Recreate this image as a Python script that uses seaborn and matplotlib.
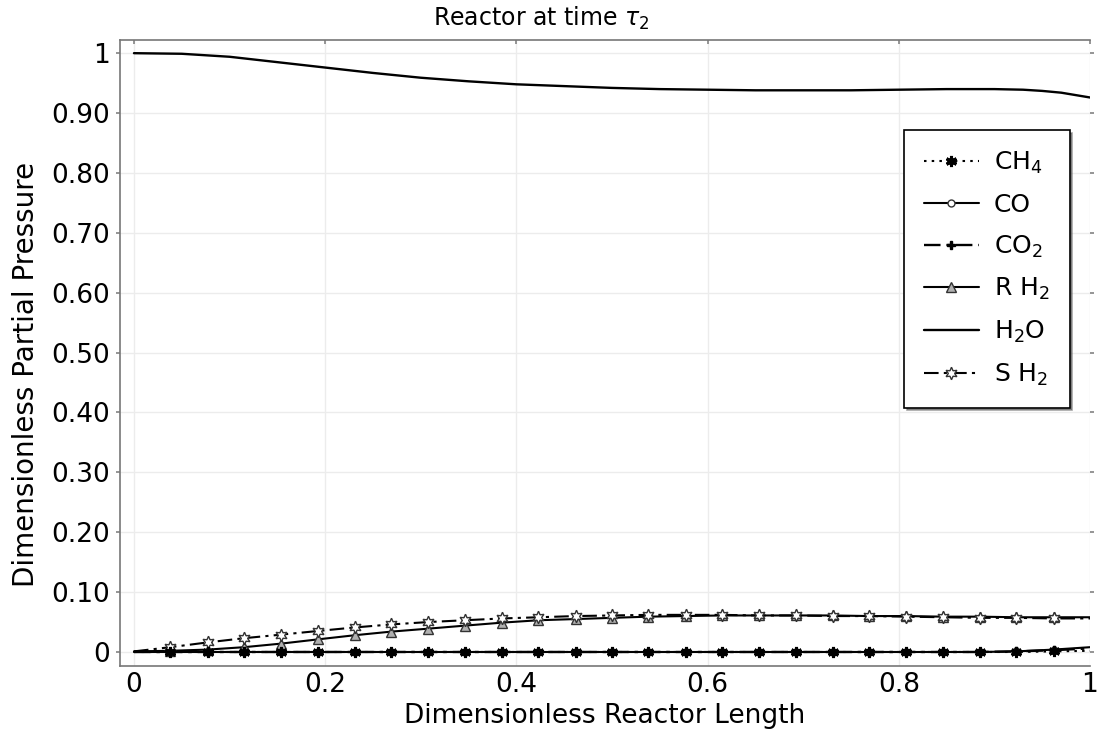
import matplotlib
matplotlib.use("Agg")
import matplotlib.pyplot as plt
import seaborn as sns
import pandas as pd

# marker grid positions (dimensionless reactor length)
x = [0.0, 0.038, 0.077, 0.115, 0.154, 0.192, 0.231, 0.269, 0.308, 0.346,
     0.385, 0.423, 0.462, 0.5, 0.538, 0.577, 0.615, 0.654, 0.692, 0.731,
     0.769, 0.808, 0.846, 0.885, 0.923, 0.962, 1.0]
ch4 = [0.0] * 24 + [0.0, 0.001, 0.002]
co = [0.0] * 23 + [0.0, 0.001, 0.004, 0.008]
co2 = [0.0] * 23 + [0.0, 0.001, 0.003, 0.006]
r_h2 = [0.001, 0.002, 0.004, 0.008, 0.014, 0.021, 0.028, 0.034, 0.039, 0.044,
        0.049, 0.053, 0.055, 0.057, 0.059, 0.060, 0.061, 0.061, 0.061, 0.061,
        0.060, 0.060, 0.059, 0.059, 0.058, 0.058, 0.058]
s_h2 = [0.001, 0.008, 0.016, 0.023, 0.029, 0.035, 0.041, 0.046, 0.050, 0.053,
        0.056, 0.058, 0.060, 0.061, 0.062, 0.062, 0.062, 0.061, 0.061, 0.060,
        0.060, 0.059, 0.058, 0.057, 0.057, 0.056, 0.056]

x_h2o = [0.0, 0.05, 0.1, 0.15, 0.2, 0.25, 0.3, 0.35, 0.4, 0.45, 0.5, 0.55,
         0.6, 0.65, 0.7, 0.75, 0.8, 0.85, 0.9, 0.93, 0.95, 0.97, 0.985, 1.0]
h2o = [1.0, 0.999, 0.994, 0.985, 0.976, 0.967, 0.959, 0.953, 0.948, 0.945,
       0.942, 0.940, 0.939, 0.938, 0.938, 0.938, 0.939, 0.940, 0.940, 0.939,
       0.937, 0.934, 0.930, 0.926]

yticks = [0, 0.1, 0.2, 0.3, 0.4, 0.5, 0.6, 0.7, 0.8, 0.9, 1.0]
ytick_labels = ["0", "0.10", "0.20", "0.30", "0.40", "0.50", "0.60", "0.70",
                "0.80", "0.90", "1"]
xticks = [0, 0.2, 0.4, 0.6, 0.8, 1.0]
xtick_labels = ["0", "0.2", "0.4", "0.6", "0.8", "1"]

sns.set_theme(style="white")
plt.rcParams['font.family'] = ['DejaVu Sans']
plt.rcParams['text.color'] = 'black'
plt.rcParams['axes.labelcolor'] = 'black'

fig = plt.figure(figsize=(11.03, 7.34), dpi=100)
ax = fig.add_axes([120 / 1103, 1 - 666 / 734, 970 / 1103, 626 / 734])

df = pd.DataFrame({"x": x, "CH4": ch4, "CO": co, "CO2": co2, "RH2": r_h2, "SH2": s_h2})
dfw = pd.DataFrame({"x": x_h2o, "H2O": h2o})

mev = slice(1, 26)
dashdot = (0, (7, 2.5, 1.5, 2.5))


def styled(line, ls, marker=None, ms=6, mfc="white", mec="#333333", mew=1.0, z=3):
    line.set_linestyle(ls)
    line.set_zorder(z)
    if marker is not None:
        line.set_marker(marker)
        line.set_markersize(ms)
        line.set_markerfacecolor(mfc)
        line.set_markeredgecolor(mec)
        line.set_markeredgewidth(mew)
        line.set_markevery(mev)
    return line


series = {}
sns.lineplot(data=dfw, x="x", y="H2O", ax=ax, color="black", lw=1.7, label=r"H$_2$O")
series[r"H$_2$O"] = styled(ax.lines[-1], "-", z=3)

sns.lineplot(data=df, x="x", y="CO", ax=ax, color="black", lw=1.5, label="CO")
series["CO"] = styled(ax.lines[-1], "-", "o", ms=5, mfc="white", mec="#333333", z=3)

sns.lineplot(data=df, x="x", y="RH2", ax=ax, color="black", lw=1.5, label=r"R H$_2$")
series[r"R H$_2$"] = styled(ax.lines[-1], "-", "^", ms=7, mfc="#b0b0b0", mec="#333333", z=4)

sns.lineplot(data=df, x="x", y="SH2", ax=ax, color="black", lw=1.5, label=r"S H$_2$")
series[r"S H$_2$"] = styled(ax.lines[-1], dashdot, (6, 1, 0), ms=9, mfc="white",
                            mec="#333333", z=5)

sns.lineplot(data=df, x="x", y="CO2", ax=ax, color="black", lw=1.7, label=r"CO$_2$")
series[r"CO$_2$"] = styled(ax.lines[-1], dashdot, "P", ms=6, mfc="black", mec="black", z=5)

sns.lineplot(data=df, x="x", y="CH4", ax=ax, color="black", lw=1.5, label=r"CH$_4$")
series[r"CH$_4$"] = styled(ax.lines[-1], (0, (1.2, 2.5)), (6, 2, 0), ms=8, mfc="black",
                           mec="black", mew=2.2, z=6)

ax.set_xlim(-0.0146, 1.0)
ax.set_ylim(-0.0234, 1.022)
ax.set_xticks(xticks)
ax.set_xticklabels(xtick_labels)
ax.set_yticks(yticks)
ax.set_yticklabels(ytick_labels)
ax.tick_params(axis="both", labelsize=19, labelcolor="black", length=3,
               color="#888888", pad=4)
ax.tick_params(axis="y", direction="out", left=True, right=True)
ax.tick_params(axis="x", direction="in", top=True, bottom=False)
ax.grid(True, color="#ececec", lw=1)
for s in ["left", "bottom", "top"]:
    ax.spines[s].set_color("#777777")
    ax.spines[s].set_linewidth(1.2)
ax.spines["right"].set_visible(False)

ax.set_xlabel("Dimensionless Reactor Length", fontsize=19, labelpad=4, color="black")
ax.set_ylabel("Dimensionless Partial Pressure", fontsize=20, color="black")
ax.yaxis.set_label_coords(-0.082, 0.465)
fig.text(541 / 1103, 1 - 18 / 734, r"Reactor at time $\tau_2$", fontsize=17,
         ha="center", va="center", color="black")

order = [r"CH$_4$", "CO", r"CO$_2$", r"R H$_2$", r"H$_2$O", r"S H$_2$"]
leg = ax.legend([series[o] for o in order], order, loc="upper right",
                bbox_to_anchor=(0.979, 0.856), borderaxespad=0, fontsize=18,
                frameon=True, fancybox=False, shadow=True, edgecolor="black",
                handlelength=2.2, labelspacing=0.66, borderpad=0.8,
                handletextpad=0.6, framealpha=1)
leg.get_frame().set_linewidth(1.2)
for t in leg.get_texts():
    t.set_color("black")

fig.savefig("out.png", dpi=100)
